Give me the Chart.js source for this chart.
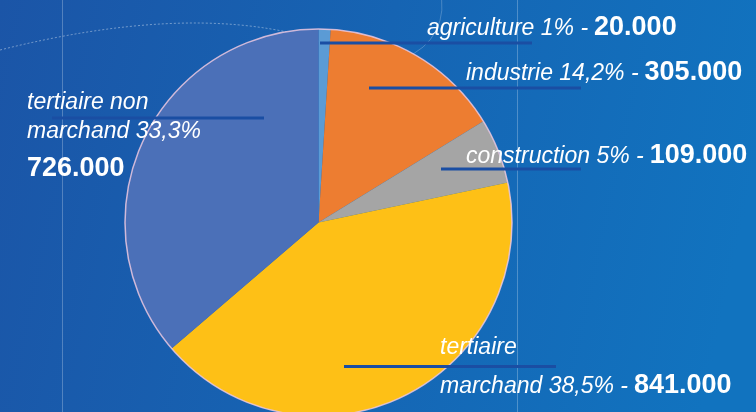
<!DOCTYPE html>
<html>
<head>
<meta charset="utf-8">
<script src="https://cdn.jsdelivr.net/npm/chart.js@4/dist/chart.umd.min.js"></script>
<style>
  html, body { margin: 0; padding: 0; width: 756px; height: 412px; overflow: hidden; }
  #wrap { position: relative; width: 756px; height: 416px; }
</style>
</head>
<body>
<div id="wrap"><canvas id="chart"></canvas></div>
<script>
// data
const categories = ['agriculture', 'industrie', 'construction', 'tertiaire marchand', 'tertiaire non marchand'];
const shareLabels = ['1%', '14,2%', '5%', '38,5%', '33,3%'];
const jobs = [20000, 305000, 109000, 841000, 726000];
const jobLabels = ['20.000', '305.000', '109.000', '841.000', '726.000'];
const sliceColors = ['#5b9bd5', '#ed7d31', '#a5a5a5', '#fec016', '#4b70b8'];

// background gradient + faint decorative lines
const backdrop = {
  id: 'backdrop',
  beforeDraw(chart) {
    const { ctx, width, height } = chart;
    ctx.save();
    const g = ctx.createLinearGradient(0, 0, width, height * 0.4);
    g.addColorStop(0, '#1b55a7');
    g.addColorStop(1, '#1173bf');
    ctx.fillStyle = g;
    ctx.fillRect(0, 0, width, height);

    ctx.strokeStyle = 'rgba(255,255,255,0.25)';
    ctx.lineWidth = 1;
    [62.5, 517.5].forEach(x => {
      ctx.beginPath();
      ctx.moveTo(x, 0);
      ctx.lineTo(x, height);
      ctx.stroke();
    });

    ctx.setLineDash([2, 2]);
    ctx.strokeStyle = 'rgba(255,255,255,0.4)';
    ctx.beginPath();
    ctx.moveTo(0, 50);
    ctx.quadraticCurveTo(180, 5, 300, 35);
    ctx.quadraticCurveTo(360, 55, 392, 62);
    ctx.stroke();
    ctx.setLineDash([]);
    ctx.strokeStyle = 'rgba(255,255,255,0.22)';
    ctx.beginPath();
    ctx.arc(388, 6, 54, -Math.PI * 0.1, Math.PI * 0.55);
    ctx.stroke();
    ctx.restore();
  }
};

// pale rim around the pie
const rim = {
  id: 'rim',
  afterDatasetsDraw(chart) {
    const arc = chart.getDatasetMeta(0).data[0];
    if (!arc) return;
    const { ctx } = chart;
    ctx.save();
    ctx.strokeStyle = 'rgba(235,200,225,0.85)';
    ctx.lineWidth = 1.5;
    ctx.beginPath();
    ctx.arc(arc.x, arc.y, arc.outerRadius, 0, Math.PI * 2);
    ctx.stroke();
    ctx.restore();
  }
};

// leader lines and labels
const callouts = {
  id: 'callouts',
  afterDraw(chart) {
    const { ctx } = chart;
    const italic = "italic 23px 'Liberation Sans', Arial, sans-serif";
    const bold = "bold 27px 'Liberation Sans', Arial, sans-serif";

    const lines = [
      [320, 532, 43],
      [369, 581, 88],
      [441, 581, 169],
      [344, 556, 366.5],
      [52, 264, 118]
    ];
    ctx.save();
    ctx.strokeStyle = '#1a4ea3';
    ctx.lineWidth = 3;
    lines.forEach(([x1, x2, y]) => {
      ctx.beginPath();
      ctx.moveTo(x1, y);
      ctx.lineTo(x2, y);
      ctx.stroke();
    });

    ctx.fillStyle = '#ffffff';
    ctx.textBaseline = 'alphabetic';
    const line = (x, y, lead, value) => {
      ctx.font = italic;
      ctx.fillText(lead, x, y);
      if (value) {
        const w = ctx.measureText(lead).width;
        ctx.font = bold;
        ctx.fillText(value, x + w + 6, y);
      }
    };

    line(427, 35, categories[0] + ' ' + shareLabels[0] + ' -', jobLabels[0]);
    line(466, 80, categories[1] + ' ' + shareLabels[1] + ' -', jobLabels[1]);
    line(466, 163, categories[2] + ' ' + shareLabels[2] + ' -', jobLabels[2]);

    line(440, 354, 'tertiaire');
    line(440, 393, 'marchand ' + shareLabels[3] + ' -', jobLabels[3]);

    line(27, 109, 'tertiaire non');
    line(27, 138, 'marchand ' + shareLabels[4]);
    ctx.font = bold;
    ctx.fillText(jobLabels[4], 27, 176);
    ctx.restore();
  }
};

new Chart(document.getElementById('chart'), {
  type: 'pie',
  data: {
    labels: categories,
    datasets: [{
      data: jobs,
      backgroundColor: sliceColors,
      borderWidth: 0
    }]
  },
  options: {
    responsive: true,
    maintainAspectRatio: false,
    animation: false,
    layout: {
      padding: { left: 125, right: 244, top: 29, bottom: 0 }
    },
    plugins: {
      legend: { display: false },
      tooltip: { enabled: false }
    }
  },
  plugins: [backdrop, rim, callouts]
});
</script>
</body>
</html>
